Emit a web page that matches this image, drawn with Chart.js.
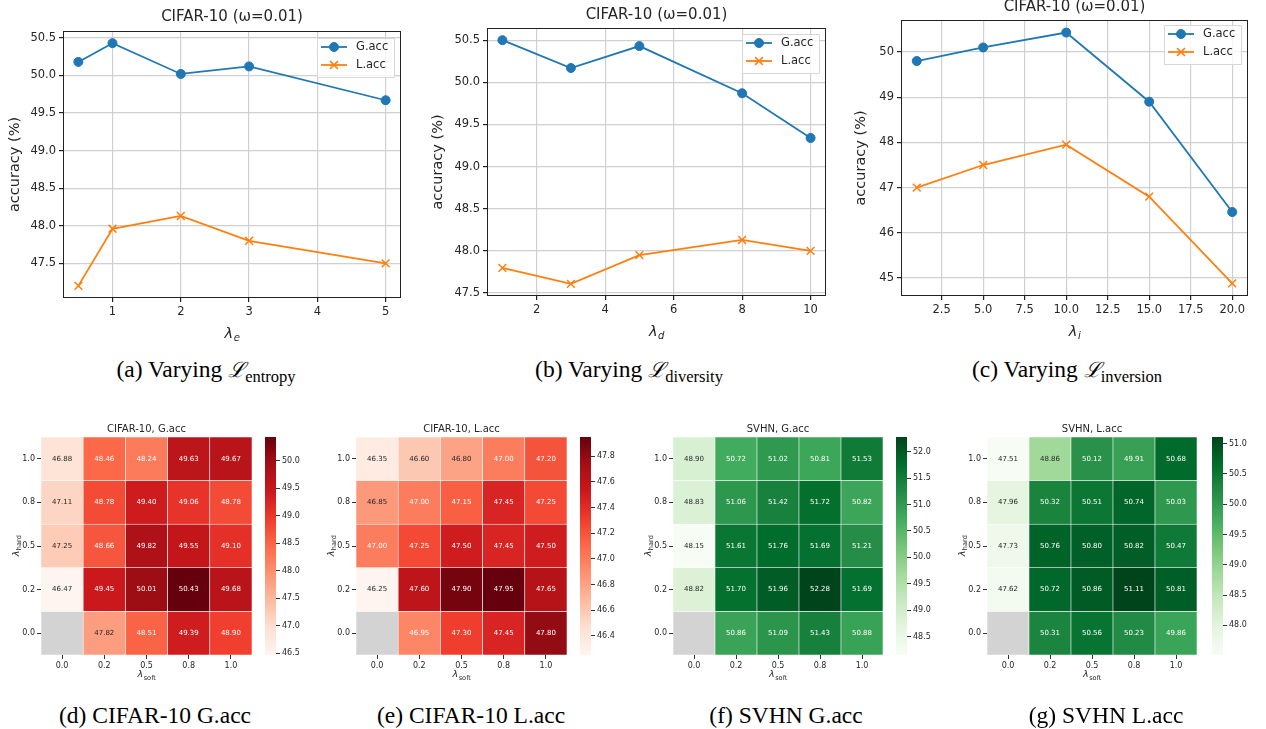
<!DOCTYPE html>
<html><head><meta charset="utf-8">
<script src="https://cdn.jsdelivr.net/npm/chart.js@4.4.1/dist/chart.umd.min.js"></script>
<style>
html,body{margin:0;padding:0;background:#fff;}
#root{position:relative;width:1266px;height:729px;overflow:hidden;background:#fff;}
.box{position:absolute;}
.box canvas{display:block;}
.cap{position:absolute;font-family:"Liberation Serif","Times New Roman",serif;font-size:23.5px;line-height:24px;color:#000;white-space:nowrap;transform:translateX(-50%);}
.cap .cal{font-family:"DejaVu Serif",serif;font-style:italic;font-size:21px;}
.cap sub{font-size:16.5px;vertical-align:-5px;line-height:0;}
</style></head><body>
<div id="root">
  <div class="box" style="left:0px;top:0px;"><canvas id="ca" width="420" height="345"></canvas></div>
  <div class="box" style="left:420px;top:0px;"><canvas id="cb" width="420" height="345"></canvas></div>
  <div class="box" style="left:840px;top:0px;"><canvas id="cc" width="426" height="345"></canvas></div>

  <div class="box" style="left:0px;top:415px;"><canvas id="hd" width="254" height="275"></canvas></div>
  <div class="box" style="left:255px;top:415px;"><canvas id="hdc" width="61" height="275"></canvas></div>
  <div class="box" style="left:315px;top:415px;"><canvas id="he" width="254" height="275"></canvas></div>
  <div class="box" style="left:570px;top:415px;"><canvas id="hec" width="61" height="275"></canvas></div>
  <div class="box" style="left:632px;top:415px;"><canvas id="hf" width="253" height="275"></canvas></div>
  <div class="box" style="left:886px;top:415px;"><canvas id="hfc" width="61" height="275"></canvas></div>
  <div class="box" style="left:946px;top:415px;"><canvas id="hg" width="253" height="275"></canvas></div>
  <div class="box" style="left:1202px;top:415px;"><canvas id="hgc" width="61" height="275"></canvas></div>

  <div class="cap" style="left:206px;top:357px;">(a) Varying <span class="cal">ℒ</span><sub>entropy</sub></div>
  <div class="cap" style="left:629px;top:357px;">(b) Varying <span class="cal">ℒ</span><sub>diversity</sub></div>
  <div class="cap" style="left:1067px;top:357px;">(c) Varying <span class="cal">ℒ</span><sub>inversion</sub></div>
  <div class="cap" style="left:155px;top:703px;">(d) CIFAR-10 G.acc</div>
  <div class="cap" style="left:471px;top:703px;">(e) CIFAR-10 L.acc</div>
  <div class="cap" style="left:786px;top:703px;">(f) SVHN G.acc</div>
  <div class="cap" style="left:1106px;top:703px;">(g) SVHN L.acc</div>
</div>
<script>
// ---------------- data ----------------
const entropyX = [0.5, 1, 2, 3, 5];
const entropyG = [50.18, 50.43, 50.02, 50.12, 49.67];
const entropyL = [47.20, 47.96, 48.13, 47.80, 47.50];
const entropyXTicks = [1, 2, 3, 4, 5];
const entropyYTicks = [47.5, 48.0, 48.5, 49.0, 49.5, 50.0, 50.5];

const diversityX = [1, 3, 5, 8, 10];
const diversityG = [50.50, 50.17, 50.43, 49.87, 49.34];
const diversityL = [47.80, 47.61, 47.95, 48.13, 48.00];
const diversityXTicks = [2, 4, 6, 8, 10];
const diversityYTicks = [47.5, 48.0, 48.5, 49.0, 49.5, 50.0, 50.5];

const inversionX = [1, 5, 10, 15, 20];
const inversionG = [49.80, 50.10, 50.43, 48.90, 46.46];
const inversionL = [47.00, 47.50, 47.95, 46.80, 44.88];
const inversionXTicks = [2.5, 5.0, 7.5, 10.0, 12.5, 15.0, 17.5, 20.0];
const inversionYTicks = [45, 46, 47, 48, 49, 50];

const softLabels = ['0.0', '0.2', '0.5', '0.8', '1.0'];
const hardLabels = ['1.0', '0.8', '0.5', '0.2', '0.0']; // top to bottom

// rows top (hard=1.0) to bottom (hard=0.0), columns soft 0.0..1.0
const cifarG = [
  [46.88, 48.46, 48.24, 49.63, 49.67],
  [47.11, 48.78, 49.40, 49.06, 48.78],
  [47.25, 48.66, 49.82, 49.55, 49.10],
  [46.47, 49.45, 50.01, 50.43, 49.68],
  [null,  47.82, 48.51, 49.39, 48.90]
];
const cifarL = [
  [46.35, 46.60, 46.80, 47.00, 47.20],
  [46.85, 47.00, 47.15, 47.45, 47.25],
  [47.00, 47.25, 47.50, 47.45, 47.50],
  [46.25, 47.60, 47.90, 47.95, 47.65],
  [null,  46.95, 47.30, 47.45, 47.80]
];
const svhnG = [
  [48.90, 50.72, 51.02, 50.81, 51.53],
  [48.83, 51.06, 51.42, 51.72, 50.82],
  [48.15, 51.61, 51.76, 51.69, 51.21],
  [48.82, 51.70, 51.96, 52.28, 51.69],
  [null,  50.86, 51.09, 51.43, 50.88]
];
const svhnL = [
  [47.51, 48.86, 50.12, 49.91, 50.68],
  [47.96, 50.32, 50.51, 50.74, 50.03],
  [47.73, 50.76, 50.80, 50.82, 50.47],
  [47.62, 50.72, 50.86, 51.11, 50.81],
  [null,  50.31, 50.56, 50.23, 49.86]
];
const cifarGCbTicks = [46.5, 47.0, 47.5, 48.0, 48.5, 49.0, 49.5, 50.0];
const cifarLCbTicks = [46.4, 46.6, 46.8, 47.0, 47.2, 47.4, 47.6, 47.8];
const svhnGCbTicks = [48.5, 49.0, 49.5, 50.0, 50.5, 51.0, 51.5, 52.0];
const svhnLCbTicks = [48.0, 48.5, 49.0, 49.5, 50.0, 50.5, 51.0];

// ---------------- styles ----------------
const BLUE = '#1f77b4', ORANGE = '#ff7f0e';
const TXT = '#262626', GRID = '#d0d0d0', SPINE = '#222222';
const FONT = '"DejaVu Sans", sans-serif';
const CMAPS = {
  Reds: ['#fff5f0','#fee0d2','#fcbba1','#fc9272','#fb6a4a','#ef3b2c','#cb181d','#a50f15','#67000d'],
  Greens: ['#f7fcf5','#e5f5e0','#c7e9c0','#a1d99b','#74c476','#41ab5d','#238b45','#006d2c','#00441b']
};
function hexRgb(h){return [parseInt(h.substr(1,2),16),parseInt(h.substr(3,2),16),parseInt(h.substr(5,2),16)];}
function cmapRgb(name,t){
  const s = CMAPS[name]; t = Math.max(0,Math.min(1,t));
  const p = t*(s.length-1); const i = Math.min(Math.floor(p), s.length-2); const f = p-i;
  const a = hexRgb(s[i]), b = hexRgb(s[i+1]);
  return [0,1,2].map(k=>Math.round(a[k]+(b[k]-a[k])*f));
}
function lum(rgb){
  const c = rgb.map(v=>{v/=255;return v<=0.03928? v/12.92 : Math.pow((v+0.055)/1.055,2.4);});
  return 0.2126*c[0]+0.7152*c[1]+0.0722*c[2];
}
function drawSub(ctx, base, sub, cx, cy, size, subItalic){
  const f1 = 'italic '+size+'px '+FONT;
  const f2 = (subItalic?'italic ':'')+(size*0.7).toFixed(1)+'px '+FONT;
  ctx.font=f1; const w1=ctx.measureText(base).width;
  ctx.font=f2; const w2=ctx.measureText(sub).width;
  const x0 = cx-(w1+w2)/2;
  ctx.textAlign='left'; ctx.textBaseline='alphabetic';
  ctx.font=f1; ctx.fillText(base,x0,cy+size*0.36);
  ctx.font=f2; ctx.fillText(sub,x0+w1+0.5,cy+size*0.36+size*0.22);
}
function drawMarker(ctx, style, r, x, y){
  ctx.beginPath();
  if (style==='circle'){ ctx.arc(x,y,r,0,Math.PI*2); ctx.fill(); ctx.stroke(); }
  else { const d = r*Math.SQRT1_2; ctx.moveTo(x-d,y-d); ctx.lineTo(x+d,y+d); ctx.moveTo(x+d,y-d); ctx.lineTo(x-d,y+d); ctx.stroke(); }
}

// ---------------- plugins (settings kept on the canvas element) ----------------
const mplText = {
  id:'mplText',
  afterDraw(chart){
    const o = chart.canvas.mpl; if (!o) return;
    const ctx = chart.ctx, a = chart.chartArea;
    const cx = (a.left+a.right)/2, cy = (a.top+a.bottom)/2;
    ctx.save(); ctx.fillStyle = TXT;
    if (o.title){ ctx.font = o.title.size+'px '+FONT; ctx.textAlign='center'; ctx.textBaseline='middle'; ctx.fillText(o.title.text, cx, o.title.y); }
    if (o.xlabel){ drawSub(ctx, o.xlabel.base, o.xlabel.sub, cx, o.xlabel.y, o.xlabel.size, o.xlabel.subItalic); }
    if (o.ylabel){
      ctx.save(); ctx.translate(o.ylabel.x, cy); ctx.rotate(-Math.PI/2);
      if (o.ylabel.sub){ drawSub(ctx, o.ylabel.base, o.ylabel.sub, 0, 0, o.ylabel.size, o.ylabel.subItalic); }
      else { ctx.font = o.ylabel.size+'px '+FONT; ctx.textAlign='center'; ctx.textBaseline='middle'; ctx.fillText(o.ylabel.text,0,0); }
      ctx.restore();
    }
    ctx.restore();
  }
};
const frame = {
  id:'frame',
  afterDatasetsDraw(chart){
    const o = chart.canvas.mpl; if (!o || !o.frame) return;
    const ctx = chart.ctx, a = chart.chartArea;
    ctx.save(); ctx.strokeStyle = SPINE; ctx.lineWidth = 1;
    ctx.strokeRect(Math.round(a.left)+0.5, Math.round(a.top)+0.5, Math.round(a.right-a.left)-1, Math.round(a.bottom-a.top)-1);
    ctx.restore();
  }
};
const mplLegend = {
  id:'mplLegend',
  afterDraw(chart){
    const o = chart.canvas.mpl; if (!o || o.legTop===undefined) return;
    const ctx = chart.ctx, a = chart.chartArea;
    const w = 77, h = 39;
    const x0 = a.right - 7 - w, y0 = a.top + o.legTop;
    ctx.save();
    ctx.fillStyle = 'rgba(255,255,255,0.8)'; ctx.strokeStyle = '#d8d8d8'; ctx.lineWidth = 1;
    ctx.beginPath(); ctx.rect(x0+0.5, y0+0.5, w, h); ctx.fill(); ctx.stroke();
    chart.data.datasets.forEach((ds, i)=>{
      const y = y0 + 9 + i*18;
      ctx.strokeStyle = ds.borderColor; ctx.lineWidth = ds.borderWidth;
      ctx.beginPath(); ctx.moveTo(x0+4, y); ctx.lineTo(x0+30, y); ctx.stroke();
      ctx.fillStyle = ds.backgroundColor; ctx.lineWidth = ds.pointBorderWidth;
      drawMarker(ctx, ds.pointStyle, ds.pointRadius, x0+17, y);
      ctx.fillStyle = TXT; ctx.font = '11.5px '+FONT; ctx.textAlign='left'; ctx.textBaseline='middle';
      ctx.fillText(ds.label, x0+39, y);
    });
    ctx.restore();
  }
};
const annot = {
  id:'annot',
  afterDatasetsDraw(chart){
    const ctx = chart.ctx;
    ctx.save(); ctx.font = '7px '+FONT; ctx.textAlign='center'; ctx.textBaseline='middle';
    chart.data.datasets.forEach((ds, di)=>{
      if (!ds.values) return;
      const meta = chart.getDatasetMeta(di);
      meta.data.forEach((bar, j)=>{
        const v = ds.values[j]; if (v===null || v===undefined) return;
        ctx.fillStyle = ds.textColors[j];
        ctx.fillText(v.toFixed(2), bar.x, (bar.y+bar.base)/2);
      });
    });
    ctx.restore();
  }
};
Chart.register(mplText, frame, mplLegend, annot);

// ---------------- line charts ----------------
function lineChart(id, xs, gs, ls, xTicks, yTicks, xDec, yDec, L){
  const all = gs.concat(ls);
  const ylo = Math.min(...all), yhi = Math.max(...all), yp = (yhi-ylo)*0.05;
  const xlo = Math.min(...xs), xhi = Math.max(...xs), xp = (xhi-xlo)*0.05;
  const canvas = document.getElementById(id);
  canvas.mpl = {
    frame:true, legTop:L.legTop,
    title:{text:'CIFAR-10 (ω=0.01)', size:15, y:L.titleY},
    ylabel:{text:'accuracy (%)', size:14.5, x:L.ylx},
    xlabel:{base:'λ', sub:L.sub, size:14.5, y:L.xly, subItalic:true}
  };
  const mk = () => ({grid:{color:GRID, lineWidth:1.2, tickColor:SPINE, tickLength:4}, border:{display:false}});
  new Chart(canvas, {
    type:'line',
    data:{datasets:[
      {label:'G.acc', data: xs.map((x,i)=>({x:x, y:gs[i]})), borderColor:BLUE, backgroundColor:BLUE,
       pointStyle:'circle', pointRadius:4.5, pointBorderWidth:1, borderWidth:1.8, tension:0},
      {label:'L.acc', data: xs.map((x,i)=>({x:x, y:ls[i]})), borderColor:ORANGE, backgroundColor:ORANGE,
       pointStyle:'crossRot', pointRadius:5.5, pointBorderWidth:1.5, borderWidth:1.8, tension:0}
    ]},
    options:{
      responsive:false, animation:false, events:[],
      layout:{padding:{left:0, top:L.top, right:L.right, bottom:0}},
      scales:{
        x:Object.assign(mk(), {type:'linear', min:xlo-xp, max:xhi+xp,
          afterBuildTicks:s=>{s.ticks = xTicks.map(v=>({value:v}));},
          afterFit:s=>{s.height = L.xh;},
          ticks:{font:{family:FONT,size:11.5}, color:TXT, padding:3, maxRotation:0, autoSkip:false, callback:v=>Number(v).toFixed(xDec)}
        }),
        y:Object.assign(mk(), {type:'linear', min:ylo-yp, max:yhi+yp,
          afterBuildTicks:s=>{s.ticks = yTicks.map(v=>({value:v}));},
          afterFit:s=>{s.width = L.yw;},
          ticks:{font:{family:FONT,size:11.5}, color:TXT, padding:3, autoSkip:false, callback:v=>Number(v).toFixed(yDec)}
        })
      },
      plugins:{ legend:{display:false}, tooltip:{enabled:false} }
    }
  });
}
lineChart('ca', entropyX, entropyG, entropyL, entropyXTicks, entropyYTicks, 0, 1,
  {top:31, right:19, xh:47, yw:63, legTop:7, titleY:17, ylx:15, xly:333, sub:'e'});
lineChart('cb', diversityX, diversityG, diversityL, diversityXTicks, diversityYTicks, 0, 1,
  {top:28, right:14, xh:49, yw:67, legTop:6, titleY:15, ylx:18, xly:331, sub:'d'});
lineChart('cc', inversionX, inversionG, inversionL, inversionXTicks, inversionYTicks, 1, 0,
  {top:20, right:18, xh:49, yw:61, legTop:5, titleY:7, ylx:21.5, xly:331, sub:'i'});

// ---------------- heatmaps ----------------
function heatmap(id, cbId, rowsTop, cmap, cbTicks, title, cellW){
  const vals = rowsTop.flat().filter(v=>v!==null);
  const vmin = Math.min(...vals), vmax = Math.max(...vals);
  const rows = rowsTop.slice().reverse();
  const rowLabels = hardLabels.slice().reverse();
  const datasets = rows.map((row, r)=>{
    const rgbs = row.map(v=> v===null ? null : cmapRgb(cmap, (v-vmin)/(vmax-vmin)));
    return {
      label: rowLabels[r], data: row.map(()=>1), values: row,
      backgroundColor: rgbs.map(c=> c===null ? '#d3d3d3' : 'rgb('+c.join(',')+')'),
      textColors: rgbs.map(c=> c===null ? TXT : (lum(c) > 0.408 ? TXT : '#ffffff')),
      borderColor:'#ffffff', borderWidth:0.6, borderSkipped:false,
      barPercentage:1, categoryPercentage:1
    };
  });
  const canvas = document.getElementById(id);
  canvas.mpl = {
    title:{text:title, size:10, y:14},
    ylabel:{base:'λ', sub:'hard', size:9.5, x:15.5, subItalic:false},
    xlabel:{base:'λ', sub:'soft', size:9.5, y:259, subItalic:false}
  };
  const tg = () => ({display:true, drawOnChartArea:false, offset:false, tickLength:4, tickColor:'#333', lineWidth:1});
  new Chart(canvas, {
    type:'bar',
    data:{labels:softLabels, datasets:datasets},
    options:{
      responsive:false, animation:false, events:[],
      layout:{padding:{left:0, top:22, right:canvas.width-41-cellW, bottom:0}},
      scales:{
        x:{type:'category', stacked:true, offset:true, grid:tg(), border:{display:false},
           ticks:{font:{family:FONT,size:8}, color:TXT, padding:2, maxRotation:0, autoSkip:false},
           afterFit:s=>{s.height = 35;}},
        y:{type:'linear', stacked:true, min:0, max:rowLabels.length, grid:tg(), border:{display:false},
           afterBuildTicks:s=>{s.ticks = rowLabels.map((_,i)=>({value:i+0.5}));},
           ticks:{font:{family:FONT,size:8}, color:TXT, padding:2, autoSkip:false, callback:v=>rowLabels[Math.floor(v)]},
           afterFit:s=>{s.width = 41;}}
      },
      plugins:{ legend:{display:false}, tooltip:{enabled:false} }
    }
  });
  const stops = CMAPS[cmap];
  new Chart(document.getElementById(cbId), {
    type:'bar',
    data:{labels:[''], datasets:[{data:[[vmin, vmax]], borderWidth:0, barPercentage:1, categoryPercentage:1,
      backgroundColor:(c)=>{
        const ch = c.chart; if (!ch.chartArea || !ch.scales.y) return '#cccccc';
        const ys = ch.scales.y;
        const g = ch.ctx.createLinearGradient(0, ys.getPixelForValue(vmin), 0, ys.getPixelForValue(vmax));
        stops.forEach((col,i)=>g.addColorStop(i/(stops.length-1), col));
        return g;
      }}]},
    options:{
      responsive:false, animation:false, events:[],
      layout:{padding:{left:10, top:22, right:0, bottom:35}},
      scales:{
        x:{display:false},
        y:{position:'right', min:vmin, max:vmax, border:{display:false},
           grid:{display:true, drawOnChartArea:false, tickLength:4, tickColor:'#333', lineWidth:1},
           afterBuildTicks:s=>{s.ticks = cbTicks.map(v=>({value:v}));},
           ticks:{font:{family:FONT,size:8}, color:TXT, padding:2, autoSkip:false, callback:v=>Number(v).toFixed(1)},
           afterFit:s=>{s.width = 40;}}
      },
      plugins:{legend:{display:false}, tooltip:{enabled:false}}
    }
  });
}
heatmap('hd', 'hdc', cifarG, 'Reds', cifarGCbTicks, 'CIFAR-10, G.acc', 211);
heatmap('he', 'hec', cifarL, 'Reds', cifarLCbTicks, 'CIFAR-10, L.acc', 211);
heatmap('hf', 'hfc', svhnG, 'Greens', svhnGCbTicks, 'SVHN, G.acc', 210);
heatmap('hg', 'hgc', svhnL, 'Greens', svhnLCbTicks, 'SVHN, L.acc', 210);
</script>
</body></html>
